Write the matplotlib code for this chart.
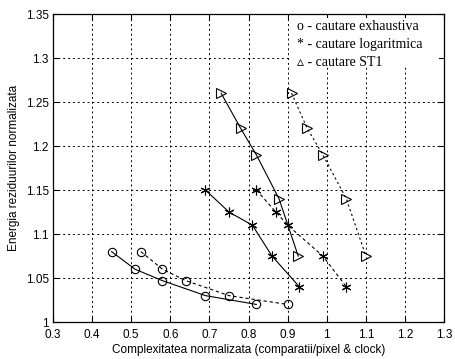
import matplotlib.pyplot as plt
import numpy as np

# complexitate normalizata / energie reziduala normalizata
exh_x1 = [0.45, 0.51, 0.58, 0.69, 0.82]
exh_y1 = [1.08, 1.06, 1.047, 1.03, 1.02]
exh_x2 = [0.525, 0.58, 0.64, 0.75, 0.90]
exh_y2 = [1.08, 1.06, 1.047, 1.03, 1.02]

log_x1 = [0.69, 0.75, 0.81, 0.86, 0.93]
log_y1 = [1.15, 1.125, 1.11, 1.075, 1.04]
log_x2 = [0.82, 0.87, 0.90, 0.99, 1.05]
log_y2 = [1.15, 1.125, 1.11, 1.075, 1.04]

st1_x1 = [0.73, 0.78, 0.82, 0.878, 0.927]
st1_y1 = [1.26, 1.22, 1.19, 1.14, 1.075]
st1_x2 = [0.91, 0.95, 0.99, 1.05, 1.10]
st1_y2 = [1.26, 1.22, 1.19, 1.14, 1.075]

legend_labels = ["o - cautare exhaustiva", "* - cautare logaritmica", "\u25b5 - cautare ST1"]


def main():
    plt.rcParams['font.family'] = ['Liberation Sans', 'DejaVu Sans']
    fig = plt.figure(figsize=(4.56, 3.59), dpi=100)
    ax = fig.add_axes([0.116, 0.103, 0.858, 0.858])

    asterisk = (6, 2, 0)
    common = dict(color='black', lw=0.8, mfc='none', mec='black', mew=0.8)
    ax.plot(exh_x1, exh_y1, '-', marker='o', ms=6, **common)
    ax.plot(exh_x2, exh_y2, '--', marker='o', ms=6, dashes=(3, 2.5), **common)
    ax.plot(log_x1, log_y1, '-', marker=asterisk, ms=7, **common)
    ax.plot(log_x2, log_y2, '--', marker=asterisk, ms=7, dashes=(3, 2.5), **common)
    ax.plot(st1_x1, st1_y1, '-', marker='>', ms=7, **common)
    ax.plot(st1_x2, st1_y2, '--', marker='>', ms=7, dashes=(2, 2.5), **common)

    ax.set_xlim(0.3, 1.3)
    ax.set_ylim(1.0, 1.35)
    ax.set_xticks(np.arange(0.3, 1.31, 0.1))
    ax.set_xticklabels(['0.3', '0.4', '0.5', '0.6', '0.7', '0.8', '0.9', '1',
                        '1.1', '1.2', '1.3'])
    ax.set_yticks(np.arange(1.0, 1.351, 0.05))
    ax.set_yticklabels(['1', '1.05', '1.1', '1.15', '1.2', '1.25', '1.3', '1.35'])
    ax.tick_params(direction='in', top=True, right=True, labelsize=8.5,
                   length=4, width=0.8)
    ax.tick_params(axis='x', pad=5)
    ax.tick_params(axis='y', pad=3)
    ax.grid(True, color='black', linestyle=(0, (2, 3)), linewidth=0.7)
    for s in ax.spines.values():
        s.set_linewidth(0.9)

    ax.set_xlabel('Complexitatea normalizata (comparatii/pixel & clock)',
                  fontsize=8.5, labelpad=2)
    ax.set_ylabel('Energia reziduurilor normalizata', fontsize=8.5, labelpad=4)

    # legend box (white patch, no border) in upper right
    ax.add_patch(plt.Rectangle((0.604, 0.828), 0.384, 0.16, transform=ax.transAxes,
                               facecolor='white', edgecolor='none', zorder=3))
    for i, lab in enumerate(legend_labels):
        ax.text(0.625, 0.958 - i * 0.058, lab, transform=ax.transAxes,
                fontsize=10, va='center', ha='left', zorder=4,
                family=['Liberation Serif', 'DejaVu Sans'])

    fig.savefig('out.png', dpi=100)


if __name__ == '__main__':
    main()
